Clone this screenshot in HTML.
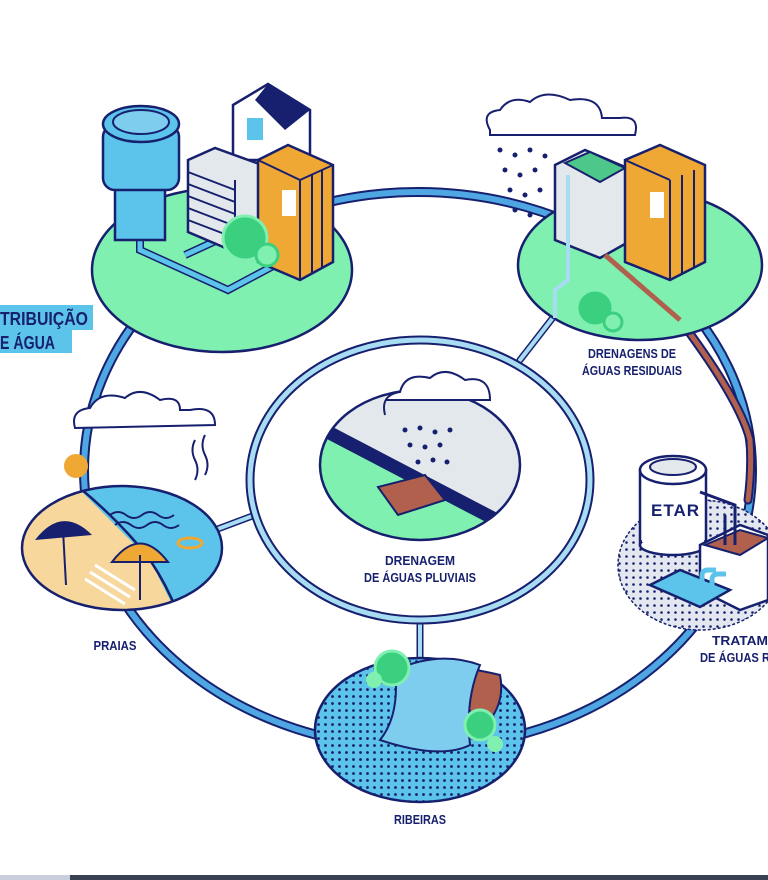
<!DOCTYPE html>
<html><head><meta charset="utf-8"><style>
html,body{margin:0;padding:0;background:#fff;width:768px;height:880px;overflow:hidden}
svg{display:block}
text{font-family:"Liberation Sans",sans-serif;font-weight:bold;fill:#17206e}
</style></head><body>
<svg width="768" height="880" viewBox="0 0 768 880" xmlns="http://www.w3.org/2000/svg">
<defs>
<pattern id="dots" width="7" height="7" patternUnits="userSpaceOnUse"><rect width="7" height="7" fill="#e3e8f0"/><circle cx="3.5" cy="3.5" r="1.3" fill="#17206e"/></pattern>
<pattern id="bdots" width="7" height="7" patternUnits="userSpaceOnUse"><rect width="7" height="7" fill="#5cc4ea"/><circle cx="3.5" cy="3.5" r="1.4" fill="#17206e"/></pattern>
</defs>
<g fill="none" stroke-linecap="round">
<ellipse cx="418" cy="470" rx="334" ry="278" stroke="#17206e" stroke-width="10"/>
<ellipse cx="418" cy="470" rx="334" ry="278" stroke="#4ea7e2" stroke-width="6"/>
<path d="M680 320 Q740 400 750 440 Q752 470 748 500" stroke="#17206e" stroke-width="9"/>
<path d="M680 320 Q740 400 750 440 Q752 470 748 500" stroke="#b0604c" stroke-width="5"/>
<path d="M520 360 L555 315 M215 530 L255 515 M420 625 L420 660" stroke="#17206e" stroke-width="7"/>
<path d="M520 360 L555 315 M215 530 L255 515 M420 625 L420 660" stroke="#a7dcf3" stroke-width="4"/>
<ellipse cx="420" cy="480" rx="170" ry="140" stroke="#17206e" stroke-width="9"/>
<ellipse cx="420" cy="480" rx="170" ry="140" stroke="#a7dcf3" stroke-width="5"/>
</g>
<ellipse cx="420" cy="480" rx="165" ry="135" fill="#fff"/>
<clipPath id="cc"><ellipse cx="420" cy="465" rx="100" ry="75"/></clipPath>
<g clip-path="url(#cc)">
<rect x="300" y="380" width="240" height="170" fill="#e3e8ec"/>
<polygon points="300,420 520,540 300,560" fill="#7ff0b0"/>
<polygon points="300,410 530,530 530,545 300,425" fill="#17206e"/>
<polygon points="378,487 425,475 445,500 398,515" fill="#b0604c" stroke="#17206e" stroke-width="2"/>
</g>
<ellipse cx="420" cy="465" rx="100" ry="75" fill="none" stroke="#17206e" stroke-width="2.5"/>
<path d="M385 415 Q380 395 400 392 Q405 372 430 378 Q445 365 465 380 Q490 375 490 400 L385 400" fill="#fff" stroke="#17206e" stroke-width="2"/>
<g fill="#17206e"><circle cx="405" cy="430" r="2.5"/><circle cx="420" cy="428" r="2.5"/><circle cx="435" cy="432" r="2.5"/><circle cx="450" cy="430" r="2.5"/><circle cx="410" cy="445" r="2.5"/><circle cx="425" cy="447" r="2.5"/><circle cx="440" cy="445" r="2.5"/><circle cx="418" cy="462" r="2.5"/><circle cx="433" cy="460" r="2.5"/><circle cx="447" cy="462" r="2.5"/></g>
<text x="420" y="565" font-size="13" text-anchor="middle" textLength="70" lengthAdjust="spacingAndGlyphs">DRENAGEM</text>
<text x="420" y="582" font-size="13" text-anchor="middle" textLength="112" lengthAdjust="spacingAndGlyphs">DE ÁGUAS PLUVIAIS</text>

<ellipse cx="222" cy="270" rx="130" ry="82" fill="#7ff0b0" stroke="#17206e" stroke-width="2.5"/>
<path d="M140 235 L140 250 L228 290 L275 265 M185 255 L235 232" fill="none" stroke="#17206e" stroke-width="8"/>
<path d="M140 235 L140 250 L228 290 L275 265 M185 255 L235 232" fill="none" stroke="#5cc4ea" stroke-width="5"/>
<rect x="115" y="185" width="50" height="55" fill="#5cc4ea" stroke="#17206e" stroke-width="2.5"/>
<rect x="103" y="125" width="76" height="65" rx="12" fill="#5cc4ea" stroke="#17206e" stroke-width="2.5"/>
<ellipse cx="141" cy="124" rx="38" ry="18" fill="#5cc4ea" stroke="#17206e" stroke-width="2.5"/>
<ellipse cx="141" cy="122" rx="28" ry="12" fill="#7ecdee" stroke="#17206e" stroke-width="2"/>
<polygon points="233,105 268,84 310,110 310,160 233,160" fill="#fff" stroke="#17206e" stroke-width="2.5"/>
<polygon points="268,84 310,110 285,130 255,100" fill="#17206e"/>
<rect x="247" y="118" width="16" height="22" fill="#5cc4ea"/>
<polygon points="188,160 215,148 262,165 262,238 235,252 188,232" fill="#e3e8ec" stroke="#17206e" stroke-width="2.5"/>
<g stroke="#17206e" stroke-width="2"><line x1="188" y1="172" x2="235" y2="190"/><line x1="188" y1="184" x2="235" y2="202"/><line x1="188" y1="196" x2="235" y2="214"/><line x1="188" y1="208" x2="235" y2="226"/><line x1="188" y1="220" x2="235" y2="238"/><line x1="235" y1="180" x2="235" y2="252"/></g>
<polygon points="258,160 288,145 333,165 333,262 300,280 258,262" fill="#f0a834" stroke="#17206e" stroke-width="2.5"/>
<g stroke="#17206e" stroke-width="2"><line x1="300" y1="180" x2="300" y2="280"/><line x1="312" y1="175" x2="312" y2="274"/><line x1="322" y1="170" x2="322" y2="268"/><line x1="258" y1="160" x2="300" y2="180"/><line x1="300" y1="180" x2="333" y2="165"/></g>
<rect x="282" y="190" width="14" height="26" fill="#fff"/>
<circle cx="245" cy="238" r="22" fill="#3ad07f" stroke="#7ff0b0" stroke-width="3"/>
<circle cx="267" cy="255" r="11" fill="#7ff0b0" stroke="#3ad07f" stroke-width="3"/>
<rect x="0" y="305" width="93" height="25" fill="#5cc4ea"/>
<rect x="0" y="330" width="72" height="23" fill="#5cc4ea"/>
<text x="0" y="325" font-size="18" textLength="88" lengthAdjust="spacingAndGlyphs">TRIBUIÇÃO</text>
<text x="0" y="349" font-size="18" textLength="55" lengthAdjust="spacingAndGlyphs">E ÁGUA</text>

<ellipse cx="640" cy="265" rx="122" ry="75" fill="#7ff0b0" stroke="#17206e" stroke-width="2.5"/>
<path d="M490 130 Q480 112 500 110 Q510 95 530 102 Q545 88 570 100 Q600 95 602 118 L620 118 Q640 115 635 135 L490 135Z" fill="#fff" stroke="#17206e" stroke-width="2"/>
<g fill="#17206e"><circle cx="500" cy="150" r="2.5"/><circle cx="515" cy="155" r="2.5"/><circle cx="530" cy="150" r="2.5"/><circle cx="545" cy="156" r="2.5"/><circle cx="505" cy="170" r="2.5"/><circle cx="520" cy="175" r="2.5"/><circle cx="535" cy="170" r="2.5"/><circle cx="510" cy="190" r="2.5"/><circle cx="525" cy="195" r="2.5"/><circle cx="540" cy="190" r="2.5"/><circle cx="515" cy="210" r="2.5"/><circle cx="530" cy="215" r="2.5"/></g>
<polygon points="555,165 585,150 632,170 632,240 600,258 555,240" fill="#e3e8ec" stroke="#17206e" stroke-width="2.5"/>
<polygon points="565,163 590,152 625,168 600,182" fill="#4ec88a" stroke="#17206e" stroke-width="2"/>
<polygon points="625,160 660,145 705,165 705,262 670,280 625,262" fill="#f0a834" stroke="#17206e" stroke-width="2.5"/>
<g stroke="#17206e" stroke-width="2"><line x1="670" y1="180" x2="670" y2="280"/><line x1="682" y1="175" x2="682" y2="274"/><line x1="694" y1="170" x2="694" y2="268"/><line x1="625" y1="160" x2="670" y2="180"/></g>
<rect x="650" y="192" width="14" height="26" fill="#fff"/>
<path d="M568 175 L568 280 L555 290 L555 318" fill="none" stroke="#a7dcf3" stroke-width="4"/>
<path d="M605 255 L680 320" fill="none" stroke="#b0604c" stroke-width="5"/>
<circle cx="595" cy="308" r="18" fill="#3ad07f" stroke="#7ff0b0" stroke-width="3"/>
<circle cx="613" cy="322" r="9" fill="#7ff0b0" stroke="#3ad07f" stroke-width="3"/>
<text x="632" y="358" font-size="13" text-anchor="middle" textLength="88" lengthAdjust="spacingAndGlyphs">DRENAGENS DE</text>
<text x="632" y="375" font-size="13" text-anchor="middle" textLength="100" lengthAdjust="spacingAndGlyphs">ÁGUAS RESIDUAIS</text>

<clipPath id="bc"><ellipse cx="122" cy="548" rx="100" ry="62"/></clipPath>
<g clip-path="url(#bc)">
<rect x="20" y="480" width="210" height="140" fill="#f7d79c"/>
<polygon points="70,480 230,480 230,620 180,620 150,560" fill="#5cc4ea"/>
<path d="M70 480 Q120 520 150 560 Q170 590 180 620" fill="none" stroke="#17206e" stroke-width="2.5"/>
<g stroke="#fff" stroke-width="3"><line x1="95" y1="565" x2="135" y2="590"/><line x1="90" y1="572" x2="130" y2="597"/><line x1="85" y1="579" x2="125" y2="604"/></g>
</g>
<ellipse cx="122" cy="548" rx="100" ry="62" fill="none" stroke="#17206e" stroke-width="2.5"/>
<path d="M110 515 q8 -6 16 0 t16 0 t16 0 t16 0 M115 525 q8 -6 16 0 t16 0 t16 0 t16 0" fill="none" stroke="#17206e" stroke-width="2"/>
<ellipse cx="190" cy="543" rx="12" ry="5" fill="none" stroke="#f0a834" stroke-width="3"/>
<path d="M35 540 Q62 505 92 535Z" fill="#17206e"/><line x1="63" y1="530" x2="66" y2="585" stroke="#17206e" stroke-width="2"/>
<path d="M112 562 Q140 525 168 562Z" fill="#f0a834" stroke="#17206e" stroke-width="2"/><line x1="140" y1="555" x2="140" y2="600" stroke="#17206e" stroke-width="2"/>
<circle cx="76" cy="466" r="12" fill="#f0a834"/>
<path d="M75 428 Q70 410 90 408 Q100 390 125 398 Q140 385 160 400 Q180 395 180 410 L190 410 Q215 405 215 425 L75 428Z" fill="#fff" stroke="#17206e" stroke-width="2"/>
<path d="M195 440 q-5 10 0 20 t0 20 M205 435 q-5 10 0 20 t0 20" fill="none" stroke="#17206e" stroke-width="2"/>
<text x="115" y="650" font-size="13" text-anchor="middle" textLength="43" lengthAdjust="spacingAndGlyphs">PRAIAS</text>

<ellipse cx="700" cy="565" rx="82" ry="65" fill="url(#dots)" stroke="#17206e" stroke-width="1.5" stroke-dasharray="3 2"/>
<rect x="640" y="470" width="66" height="75" fill="#fff" stroke="#17206e" stroke-width="2.5"/>
<ellipse cx="673" cy="545" rx="33" ry="10" fill="#fff" stroke="#17206e" stroke-width="2.5"/>
<rect x="642" y="472" width="62" height="70" fill="#fff"/>
<ellipse cx="673" cy="470" rx="33" ry="14" fill="#fff" stroke="#17206e" stroke-width="2.5"/>
<ellipse cx="673" cy="467" rx="23" ry="8" fill="#e3e8ec" stroke="#17206e" stroke-width="2"/>
<text x="651" y="516" font-size="17" letter-spacing="1">ETAR</text>
<polygon points="700,545 740,525 768,535 768,600 740,610 700,590" fill="#fff" stroke="#17206e" stroke-width="2.5"/>
<polygon points="705,545 740,530 768,538 740,555" fill="#b0604c" stroke="#17206e" stroke-width="2"/>
<path d="M700 492 L735 505 L735 545 M725 545 L725 515" fill="none" stroke="#17206e" stroke-width="3"/>
<polygon points="650,585 680,570 730,590 700,607" fill="#5cc4ea" stroke="#17206e" stroke-width="2.5"/>
<path d="M702 588 l0 -12 q0 -6 6 -6 l8 0 M712 592 l0 -12 q0 -6 6 -6 l8 0" fill="none" stroke="#5cc4ea" stroke-width="5"/>
<text x="712" y="645" font-size="13" textLength="56" lengthAdjust="spacingAndGlyphs">TRATAM</text>
<text x="700" y="662" font-size="13" textLength="70" lengthAdjust="spacingAndGlyphs">DE ÁGUAS R</text>

<ellipse cx="420" cy="730" rx="105" ry="72" fill="url(#bdots)" stroke="#17206e" stroke-width="2.5"/>
<path d="M405 675 Q440 660 500 675 Q505 700 490 720 Q470 720 465 700 Z" fill="#b0604c" stroke="#17206e" stroke-width="2"/>
<path d="M395 670 Q440 650 480 665 Q465 700 470 745 Q440 760 380 740 Q400 715 395 670Z" fill="#7ecdee" stroke="#17206e" stroke-width="2"/>
<circle cx="392" cy="668" r="17" fill="#3ad07f" stroke="#7ff0b0" stroke-width="3"/>
<circle cx="374" cy="680" r="8" fill="#7ff0b0"/>
<circle cx="480" cy="725" r="15" fill="#3ad07f" stroke="#7ff0b0" stroke-width="3"/>
<circle cx="495" cy="744" r="8" fill="#7ff0b0"/>
<text x="420" y="824" font-size="13" text-anchor="middle" textLength="52" lengthAdjust="spacingAndGlyphs">RIBEIRAS</text>

<rect x="0" y="875" width="768" height="5" fill="#3a4152"/>
<rect x="0" y="875" width="70" height="5" fill="#c9cfdc"/>
</svg>
</body></html>
